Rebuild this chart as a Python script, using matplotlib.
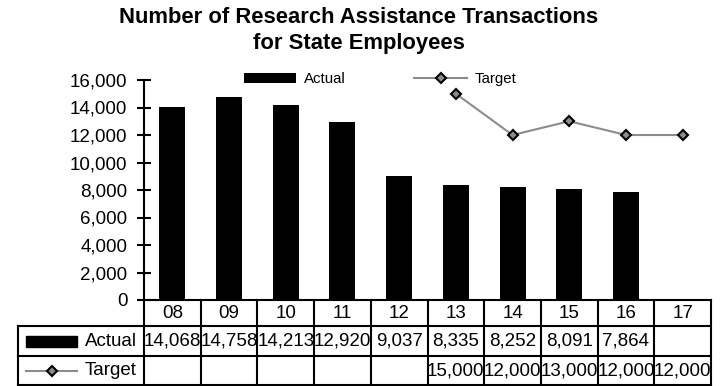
import matplotlib
matplotlib.use("Agg")
import matplotlib.pyplot as plt
from matplotlib.transforms import blended_transform_factory

plt.rcParams['font.family'] = ['Liberation Sans', 'DejaVu Sans']

# veriler
years = ["08", "09", "10", "11", "12", "13", "14", "15", "16", "17"]
actual = [14068, 14758, 14213, 12920, 9037, 8335, 8252, 8091, 7864, None]
target = [None, None, None, None, None, 15000, 12000, 13000, 12000, 12000]
yticks = [0, 2000, 4000, 6000, 8000, 10000, 12000, 14000, 16000]

W, H = 721, 386
fig = plt.figure(figsize=(W / 100, H / 100), dpi=100)
ax = fig.add_axes([144 / W, 1 - 300 / H, (711 - 144) / W, 220 / H])

x = list(range(len(years)))
ax_x = [i for i, v in zip(x, actual) if v is not None]
ax_v = [v for v in actual if v is not None]
bars = ax.bar(ax_x, ax_v, width=0.46, color="black", label="Actual")
tx = [i for i, v in zip(x, target) if v is not None]
tv = [v for v in target if v is not None]
line, = ax.plot(tx, tv, color="#8c8c8c", linewidth=1.5, marker="D", markersize=5,
                markerfacecolor="#8c8c8c", markeredgecolor="black", markeredgewidth=1.5,
                label="Target")

fs = 13.5  # tablo ve eksen yazı boyutu
ax.set_xlim(-0.5, len(years) - 0.5)
ax.set_ylim(0, 16000)
ax.set_yticks(yticks)
ax.set_yticklabels([f"{v:,}" for v in yticks], fontsize=fs)
ax.tick_params(axis="y", direction="inout", length=10, width=1.5, pad=7)
ax.set_xticks([])
for s in ["top", "right"]:
    ax.spines[s].set_visible(False)
ax.spines["left"].set_linewidth(1.5)
ax.spines["bottom"].set_linewidth(1.5)

# başlık
fig.text(0.498, 1 - 7 / H, "Number of Research Assistance Transactions\nfor State Employees",
         ha="center", va="top", fontsize=15.8, fontweight="bold", linespacing=1.3)

# gösterge
ax.legend([bars, line], ["Actual", "Target"], loc="center", bbox_to_anchor=(380 / W, 1 - 79 / H),
          bbox_transform=fig.transFigure, ncol=2, frameon=False, fontsize=10.8,
          handlelength=3.5, handletextpad=0.5, columnspacing=4.6, borderpad=0)

# tablo
tr = blended_transform_factory(ax.transData, ax.transAxes)
r1, r2, r3 = -26 / 220, -56 / 220, -85 / 220
left = -0.5 - (144 - 18) / 56.7
lk = dict(color="black", linewidth=1.5, transform=tr, clip_on=False)
ax.plot([left, 9.5], [r1, r1], **lk)
ax.plot([left, 9.5], [r2, r2], **lk)
ax.plot([left, 9.5], [r3, r3], **lk)
ax.plot([left, left], [r1, r3], **lk)
for b in [i - 0.5 for i in range(len(years) + 1)]:
    ax.plot([b, b], [0, r3], **lk)

for i, yr in enumerate(years):
    ax.text(i, r1 / 2, yr, ha="center", va="center", fontsize=fs, transform=tr)
    if actual[i] is not None:
        ax.text(i, (r1 + r2) / 2, f"{actual[i]:,}", ha="center", va="center", fontsize=fs, transform=tr)
    if target[i] is not None:
        ax.text(i, (r2 + r3) / 2, f"{target[i]:,}", ha="center", va="center", fontsize=fs, transform=tr)

# satır başlıkları
unit = 56.7
ax.add_patch(plt.Rectangle((left + 8 / unit, (r1 + r2) / 2 - 5.5 / 220), 51 / unit, 11 / 220,
                           color="black", transform=tr, clip_on=False))
ax.text(left + 67 / unit, (r1 + r2) / 2, "Actual", ha="left", va="center", fontsize=fs, transform=tr)
ax.plot([left + 8 / unit, left + 59 / unit], [(r2 + r3) / 2] * 2, color="#8c8c8c", linewidth=1.5,
        transform=tr, clip_on=False)
ax.plot([left + 34 / unit], [(r2 + r3) / 2], marker="D", markersize=5, color="#8c8c8c",
        markeredgecolor="black", markeredgewidth=1.5, transform=tr, clip_on=False)
ax.text(left + 67 / unit, (r2 + r3) / 2, "Target", ha="left", va="center", fontsize=fs, transform=tr)

fig.savefig("out.png", dpi=100)
